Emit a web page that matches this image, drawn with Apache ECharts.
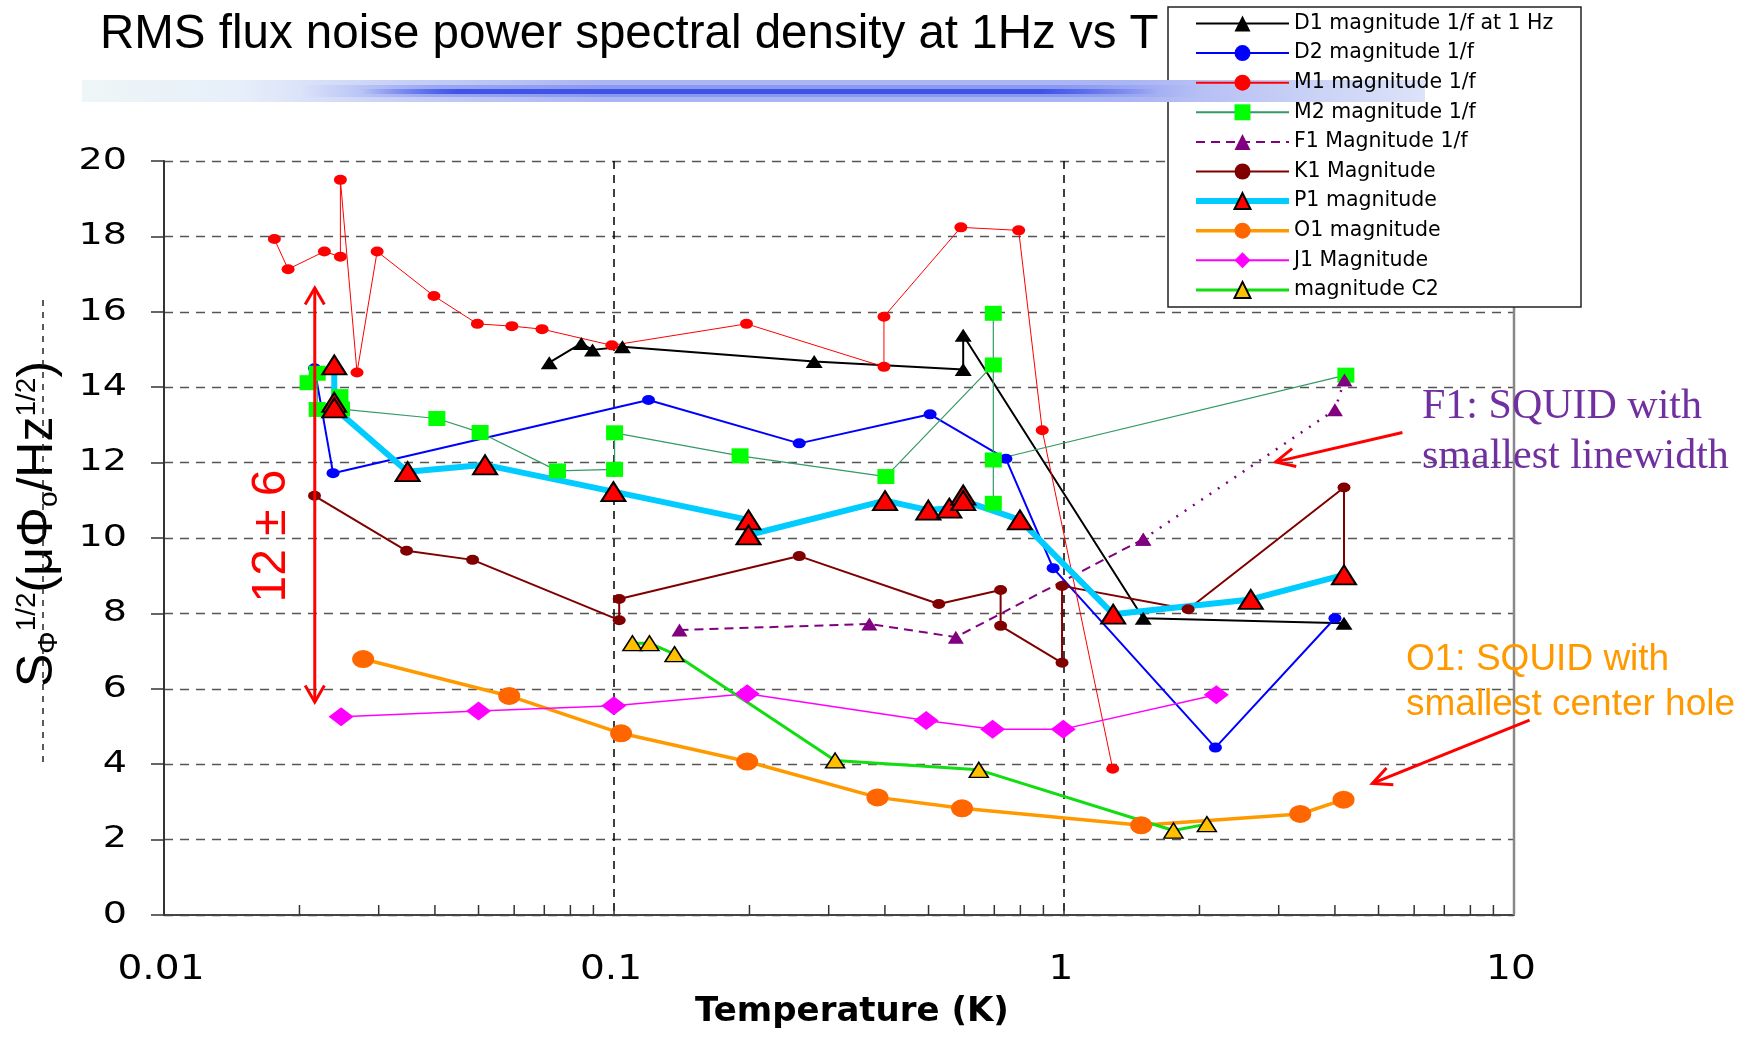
<!DOCTYPE html>
<html>
<head>
<meta charset="utf-8">
<title>RMS flux noise vs T</title>
<script src="https://cdn.jsdelivr.net/npm/echarts@6/dist/echarts.min.js"></script>
<style>
  html, body { margin: 0; padding: 0; background: #fff; }
  #main { width: 1746px; height: 1048px; }
</style>
</head>
<body>
<div id="main"></div>
<script>
// temperature (K) / noise (uPhi0/Hz^1/2) pairs
const d1T = [0.0718, 0.0846, 0.0896, 0.1044, 0.2785, 0.597, 0.597, 1.50, 4.19];
const d1V = [14.65, 15.16, 14.99, 15.07, 14.68, 14.47, 15.38, 7.87, 7.74];

const d2T = [0.0216, 0.02375, 0.1193, 0.258, 0.504, 0.743, 0.946, 2.17, 4.0];
const d2V = [14.5, 11.72, 13.66, 12.51, 13.28, 12.10, 9.2, 4.44, 7.87];

const m1T = [0.01759, 0.01887, 0.02272, 0.02466, 0.02466, 0.02685, 0.02976, 0.0398, 0.0497, 0.0593,
             0.0692, 0.0989, 0.197, 0.398, 0.398, 0.590, 0.793, 0.8946, 1.283];
const m1V = [17.93, 17.13, 17.6, 17.46, 19.5, 14.39, 17.6, 16.42, 15.68, 15.62,
             15.54, 15.11, 15.68, 14.54, 15.87, 18.24, 18.16, 12.86, 3.88];

const m2T = [0.0209, 0.0219, 0.0219, 0.0246, 0.0248, 0.0404, 0.0504, 0.0749, 0.1003, 0.1003,
             0.1906, 0.402, 0.6965, 0.6965, 0.6965, 0.6965, 4.23];
const m2V = [14.12, 14.37, 13.41, 13.75, 13.42, 13.17, 12.80, 11.78, 11.82, 12.79,
             12.18, 11.63, 14.59, 15.96, 10.92, 12.07, 14.32];

// F1 is dashed at low T, dotted above 1.5 K
const f1T = [0.1398, 0.3694, 0.575, 1.50];
const f1V = [7.56, 7.72, 7.37, 9.97];
const f1TailT = [1.50, 4.0, 4.2];
const f1TailV = [9.97, 13.4, 14.19];

const k1T = [0.0216, 0.0346, 0.0485, 0.1027, 0.1027, 0.258, 0.527, 0.723, 0.723, 0.99, 0.99, 1.887, 4.19, 4.19];
const k1V = [11.12, 9.66, 9.42, 7.82, 8.38, 9.52, 8.25, 8.62, 7.67, 6.69, 8.73, 8.11, 11.34, 9.0];

const p1T = [0.0239, 0.0239, 0.0239, 0.03478, 0.0517, 0.0997, 0.199, 0.199, 0.4002, 0.4995,
             0.556, 0.597, 0.597, 0.798, 1.286, 2.60, 4.19];
const p1V = [14.59, 13.6, 13.45, 11.76, 11.94, 11.23, 10.48, 10.08, 10.99, 10.74,
             10.79, 11.14, 10.99, 10.48, 7.98, 8.37, 9.02];

const o1T = [0.0277, 0.0585, 0.1037, 0.1977, 0.385, 0.5935, 1.484, 3.35, 4.18];
const o1V = [6.79, 5.81, 4.82, 4.07, 3.12, 2.83, 2.38, 2.68, 3.06];

const j1T = [0.02475, 0.050, 0.0999, 0.1977, 0.494, 0.694, 0.996, 2.18];
const j1V = [5.26, 5.41, 5.55, 5.87, 5.16, 4.93, 4.93, 5.84];

const c2T = [0.1099, 0.1199, 0.1363, 0.310, 0.6466, 1.751, 2.077];
const c2V = [7.21, 7.21, 6.92, 4.10, 3.85, 2.24, 2.41];

// axis ticks and labels
const xTickValues = [0.01, 0.1, 1, 10];
const xTickLabels = ['0.01', '0.1', '1', '10'];
const yTickValues = [0, 2, 4, 6, 8, 10, 12, 14, 16, 18, 20];
const yTickLabels = ['0', '2', '4', '6', '8', '10', '12', '14', '16', '18', '20'];
const minorTicks = [0.02, 0.03, 0.04, 0.05, 0.06, 0.07, 0.08, 0.09,
                    0.2, 0.3, 0.4, 0.5, 0.6, 0.7, 0.8, 0.9,
                    2, 3, 4, 5, 6, 7, 8, 9];

// annotation anchors (data coords)
const spreadT = 0.02163, spreadLo = 5.65, spreadHi = 16.63;
const f1Arrow = [[5.65, 12.80], [2.955, 12.02]];
const o1Arrow = [[10.83, 5.17], [4.845, 3.49]];

const zip = (t, v) => t.map((x, i) => [x, v[i]]);

function lineSeries(name, t, v, color, width, symbol, size, extra) {
  return Object.assign({
    name: name,
    type: 'line',
    data: zip(t, v),
    symbol: symbol,
    symbolSize: size,
    showAllSymbol: true,
    lineStyle: { color: color, width: width },
    itemStyle: { color: color },
    emphasis: { disabled: true },
    animation: false
  }, extra || {});
}

const chart = echarts.init(document.getElementById('main'));

const option = {
  backgroundColor: '#fff',
  animation: false,
  title: {
    text: 'RMS flux noise power spectral density at 1Hz vs T',
    left: 95,
    top: 6,
    textStyle: { fontFamily: 'Liberation Sans', fontSize: 47.5, fontWeight: 'normal', color: '#000' }
  },
  legend: {
    orient: 'vertical',
    left: 1168,
    top: 7,
    z: 10,
    padding: [6, 10, 6, 25],
    itemWidth: 93,
    itemHeight: 20,
    itemGap: 8.6,
    textStyle: { fontFamily: 'DejaVu Sans', fontSize: 20.5, color: '#000' },
    data: [
      'D1 magnitude 1/f at 1 Hz', 'D2 magnitude 1/f', 'M1 magnitude 1/f', 'M2 magnitude 1/f',
      'F1 Magnitude 1/f', 'K1 Magnitude',
      { name: 'P1 magnitude', lineStyle: { width: 6 } },
      { name: 'O1 magnitude', lineStyle: { width: 3.5 } },
      'J1 Magnitude',
      { name: 'magnitude C2', lineStyle: { width: 3 } }
    ]
  },
  grid: { left: 164, right: 232, top: 161, bottom: 133 },
  xAxis: {
    type: 'log',
    logBase: 10,
    min: 0.01,
    max: 10,
    axisLine: { show: true, onZero: false, lineStyle: { color: '#444', width: 2 } },
    axisTick: { show: true, inside: true, length: 11, lineStyle: { color: '#333', width: 1.5 } },
    splitLine: { show: true, lineStyle: { color: '#000', type: [8, 6], width: 1.5 } },
    axisLabel: { show: false },
    name: 'Temperature (K)',
    nameLocation: 'middle',
    nameGap: 80,
    nameTextStyle: { fontFamily: 'DejaVu Sans', fontWeight: 'bold', fontSize: 34, color: '#000', padding: [0, 0, 0, 26] }
  },
  yAxis: {
    type: 'value',
    min: 0,
    max: 20,
    interval: 2,
    axisLine: { show: true, lineStyle: { color: '#333', width: 2 } },
    axisTick: { show: true, length: 13, lineStyle: { color: '#333', width: 1.5 } },
    splitLine: { show: true, lineStyle: { color: '#555', type: [9, 7], width: 1.3 } },
    axisLabel: { show: false },
    name: '{m|S}{sub|\u03A6}{sup|1/2}{m|(\u03BC\u03A6}{sub|o}{m|/Hz}{sup|1/2}{m|)}',
    nameLocation: 'middle',
    nameRotate: 90,
    nameGap: 101,
    nameTextStyle: {
      color: '#000',
      padding: [0, 0, 0, 28],
      rich: {
        m: { fontFamily: 'Liberation Sans', fontSize: 50, color: '#000' },
        sub: { fontFamily: 'Liberation Sans', fontSize: 28, color: '#000', verticalAlign: 'bottom' },
        sup: { fontFamily: 'Liberation Sans', fontSize: 28, color: '#000', verticalAlign: 'top' }
      }
    }
  },
  series: [
    lineSeries('D1 magnitude 1/f at 1 Hz', d1T, d1V, '#000', 2, 'triangle', [17, 13]),
    lineSeries('D2 magnitude 1/f', d2T, d2V, '#0000ff', 2, 'circle', [13, 10]),
    lineSeries('M1 magnitude 1/f', m1T, m1V, '#ff0000', 1, 'circle', [13, 10]),
    lineSeries('M2 magnitude 1/f', m2T, m2V, '#339966', 1.2, 'rect', [17, 15], { itemStyle: { color: '#00ff00' } }),
    lineSeries('F1 Magnitude 1/f', f1T, f1V, '#800080', 2, 'triangle', [16, 13],
      { lineStyle: { color: '#800080', width: 2, type: [9, 6] } }),
    lineSeries('F1 tail', f1TailT, f1TailV, '#800080', 2.5, 'triangle', [16, 13],
      { lineStyle: { color: '#800080', width: 2.5, type: [2, 8] } }),
    lineSeries('K1 Magnitude', k1T, k1V, '#800000', 2, 'circle', [13, 10]),
    lineSeries('P1 magnitude', p1T, p1V, '#00ccff', 6, 'triangle', [24, 19],
      { itemStyle: { color: '#ff0000', borderColor: '#000', borderWidth: 2 } }),
    lineSeries('O1 magnitude', o1T, o1V, '#ff9900', 3.5, 'circle', [22, 18], { itemStyle: { color: '#ff6600' } }),
    lineSeries('J1 Magnitude', j1T, j1V, '#ff00ff', 1.5, 'diamond', [25, 19]),
    lineSeries('magnitude C2', c2T, c2V, '#11dd11', 3, 'triangle', [19, 15],
      { itemStyle: { color: '#ffc000', borderColor: '#000', borderWidth: 1.5 } })
  ]
};

chart.setOption(option);

// overlays placed through the chart's own scales
const px = (t, v) => chart.convertToPixel({ gridIndex: 0 }, [t, v]);

function chevron(tip, from, len, ang, color, width) {
  const dx = from[0] - tip[0], dy = from[1] - tip[1];
  const d = Math.hypot(dx, dy), ux = dx / d, uy = dy / d;
  const rot = a => [tip[0] + len * (ux * Math.cos(a) - uy * Math.sin(a)),
                    tip[1] + len * (ux * Math.sin(a) + uy * Math.cos(a))];
  return {
    type: 'polyline', z: 60,
    shape: { points: [rot(ang), tip, rot(-ang)] },
    style: { stroke: color, lineWidth: width, fill: null }
  };
}

function arrow(from, to, color, width, headLen, headAng) {
  return [
    { type: 'line', z: 60, shape: { x1: from[0], y1: from[1], x2: to[0], y2: to[1] },
      style: { stroke: color, lineWidth: width } },
    chevron(to, from, headLen, headAng, color, width)
  ];
}

const graphics = [];

// legend frame (legend text sits on top of the title bar, frame below it)
graphics.push({
  type: 'rect', z: 5,
  shape: { x: 1168, y: 7, width: 413, height: 300 },
  style: { fill: '#fff', stroke: '#222', lineWidth: 1.5 }
});

// gradient bar under the title
graphics.push({
  type: 'rect', z: 6,
  shape: { x: 82, y: 80, width: 1343, height: 22 },
  style: {
    fill: new echarts.graphic.LinearGradient(0, 0, 1, 0, [
      { offset: 0, color: '#eef6f6' },
      { offset: 0.12, color: '#e6eefa' },
      { offset: 0.24, color: '#c6cff6' },
      { offset: 0.39, color: '#aab5f3' },
      { offset: 0.78, color: '#aab5f3' },
      { offset: 1, color: '#dde3f8' }
    ])
  }
});
graphics.push({
  type: 'rect', z: 7,
  shape: { x: 300, y: 85, width: 900, height: 12 },
  style: {
    fill: new echarts.graphic.LinearGradient(0, 0, 1, 0, [
      { offset: 0, color: 'rgba(80,100,235,0)' },
      { offset: 0.15, color: 'rgba(80,100,235,0.35)' },
      { offset: 0.85, color: 'rgba(80,100,235,0.35)' },
      { offset: 1, color: 'rgba(80,100,235,0)' }
    ])
  }
});
graphics.push({
  type: 'rect', z: 8,
  shape: { x: 360, y: 89, width: 800, height: 5 },
  style: {
    fill: new echarts.graphic.LinearGradient(0, 0, 1, 0, [
      { offset: 0, color: 'rgba(50,70,230,0)' },
      { offset: 0.12, color: 'rgba(50,70,230,0.85)' },
      { offset: 0.85, color: 'rgba(50,70,230,0.85)' },
      { offset: 1, color: 'rgba(50,70,230,0)' }
    ])
  }
});

// right border of the plot
const rTop = px(10, 20), rBot = px(10, 0);
graphics.push({ type: 'line', z: 3, shape: { x1: rTop[0], y1: rTop[1], x2: rBot[0], y2: rBot[1] },
  style: { stroke: '#888', lineWidth: 2.5 } });

// log minor ticks, pointing into the plot
minorTicks.forEach(t => {
  const p = px(t, 0);
  graphics.push({ type: 'line', z: 3, shape: { x1: p[0], y1: p[1], x2: p[0], y2: p[1] - 10 },
    style: { stroke: '#333', lineWidth: 1.5 } });
});

// tick labels, drawn a little wide like the stretched original
yTickValues.forEach((v, i) => {
  const p = px(0.01, v);
  graphics.push({
    type: 'text', z: 3, x: p[0] - 37, y: p[1], scaleX: 1.27,
    style: { text: yTickLabels[i], fontFamily: 'DejaVu Sans', fontSize: 30, fill: '#000',
             align: 'right', verticalAlign: 'middle' }
  });
});
xTickValues.forEach((t, i) => {
  const p = px(t, 0);
  graphics.push({
    type: 'text', z: 3, x: p[0] - 3, y: p[1] + 55, scaleX: 1.15,
    style: { text: xTickLabels[i], fontFamily: 'DejaVu Sans', fontSize: 34, fill: '#000',
             align: 'center', verticalAlign: 'middle' }
  });
});

// dashed stroke through the y axis title (as in the original)
graphics.push({ type: 'line', z: 3, shape: { x1: 43, y1: 300, x2: 43, y2: 766 },
  style: { stroke: '#222', lineWidth: 1.5, lineDash: [6, 6] } });

// 12 +- 6 spread arrow
const sLo = px(spreadT, spreadLo), sHi = px(spreadT, spreadHi);
graphics.push({ type: 'line', z: 60, shape: { x1: sLo[0], y1: sLo[1], x2: sHi[0], y2: sHi[1] },
  style: { stroke: '#ff0000', lineWidth: 3 } });
graphics.push(chevron(sHi, sLo, 19, 0.53, '#ff0000', 3));
graphics.push(chevron(sLo, sHi, 19, 0.53, '#ff0000', 3));
graphics.push({
  type: 'text', z: 60, x: 272, y: 536, rotation: Math.PI / 2,
  style: { text: '12 \u00B1 6', fontFamily: 'Liberation Sans', fontSize: 48, fill: '#ff0000',
           align: 'center', verticalAlign: 'middle' }
});

// callouts
graphics.push({
  type: 'text', z: 60, x: 1422, y: 432,
  style: { text: 'F1: SQUID with\nsmallest linewidth', fontFamily: 'Liberation Serif', fontSize: 42,
           lineHeight: 50, fill: '#7030a0', align: 'left', verticalAlign: 'middle' }
});
graphics.push({
  type: 'text', z: 60, x: 1406, y: 682,
  style: { text: 'O1: SQUID with\nsmallest center hole', fontFamily: 'Liberation Sans', fontSize: 37,
           lineHeight: 45, fill: '#ff9900', align: 'left', verticalAlign: 'middle' }
});
arrow(px(f1Arrow[0][0], f1Arrow[0][1]), px(f1Arrow[1][0], f1Arrow[1][1]), '#ff0000', 3, 21, 0.45)
  .forEach(g => graphics.push(g));
arrow(px(o1Arrow[0][0], o1Arrow[0][1]), px(o1Arrow[1][0], o1Arrow[1][1]), '#ff0000', 3, 21, 0.45)
  .forEach(g => graphics.push(g));

chart.setOption({ graphic: graphics });
</script>
</body>
</html>
